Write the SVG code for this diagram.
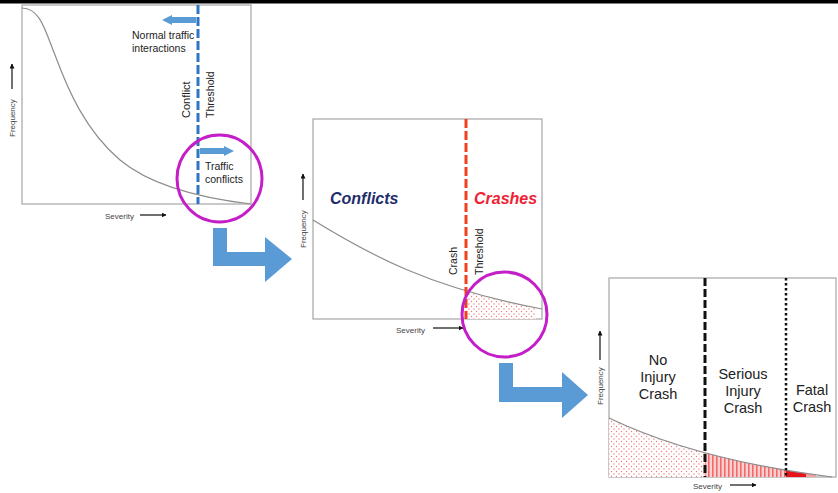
<svg xmlns="http://www.w3.org/2000/svg" width="838" height="493" viewBox="0 0 838 493">
<style>
.box{fill:#fff;stroke:#a6a6a6;stroke-width:1.2}
.curve{fill:none;stroke:#8c8c8c;stroke-width:1.2}
.t{font-family:"Liberation Sans",Arial,sans-serif;fill:#222}
.ax{font-family:"Liberation Sans",Arial,sans-serif;font-size:8px;fill:#444}
.axl{stroke:#111;stroke-width:1.2;fill:none;marker-end:url(#ah)}
.ring{fill:none;stroke:#c41ec8;stroke-width:3}
.big{fill:#5b9bd5}
.lab{font-family:"Liberation Sans",Arial,sans-serif;font-size:14.5px;fill:#222;text-anchor:middle}
</style>
<defs>
<marker id="ah" viewBox="0 0 10 10" refX="9" refY="5" markerWidth="5" markerHeight="5" orient="auto" markerUnits="userSpaceOnUse"><path d="M0,0 L10,5 L0,10 Z" fill="#111"/></marker>
<pattern id="dots" width="5" height="5" patternUnits="userSpaceOnUse"><rect width="5" height="5" fill="#fff"/><circle cx="1.5" cy="1.5" r="0.7" fill="#f07a7a"/><circle cx="4" cy="4" r="0.7" fill="#f07a7a"/></pattern>
<pattern id="vlines" width="4" height="4" patternUnits="userSpaceOnUse"><rect width="4" height="4" fill="#fbd0d0"/><rect x="0" y="0" width="1.6" height="4" fill="#f26a6a"/></pattern>
<clipPath id="c2"><path d="M313,220 C370,255 430,288 542,309 L542,319 L313,319 Z"/></clipPath>
<clipPath id="c3"><path d="M609,418 C680,452 760,468 832,477 L609,477 Z"/></clipPath>
</defs>
<rect x="0" y="0" width="838" height="493" fill="#fff"/>
<rect x="0" y="0" width="838" height="3.5" fill="#000"/>

<g id="panel-conflict">
<rect class="box" x="22" y="5" width="229" height="199"/>
<path class="curve" d="M22,8 C40,8 45,30 55,55 C68,90 85,130 120,160 C150,185 200,198 251,204"/>
<line x1="198" y1="5" x2="198" y2="204" stroke="#2e75c6" stroke-width="3" stroke-dasharray="9,3"/>
<path class="big" d="M196,17 L172,17 L172,15 L162,20 L172,25 L172,23 L196,23 Z"/>
<path class="big" d="M200,148 L224,148 L224,146 L234,151 L224,156 L224,154 L200,154 Z"/>
<text class="t" font-size="10.5" x="132" y="39">Normal traffic</text>
<text class="t" font-size="10.5" x="132" y="52">interactions</text>
<text class="t" font-size="11" transform="translate(190,118) rotate(-90)">Conflict</text>
<text class="t" font-size="10.5" transform="translate(214,118) rotate(-90)">Threshold</text>
<text class="t" font-size="10.5" x="205" y="170">Traffic</text>
<text class="t" font-size="10.5" x="205" y="183">conflicts</text>
<text class="ax" x="105" y="219">Severity</text>
<line class="axl" x1="140" y1="215" x2="166" y2="215"/>
<text class="ax" transform="translate(15,137) rotate(-90)">Frequency</text>
<line class="axl" x1="12" y1="89" x2="12" y2="64"/>
<ellipse class="ring" cx="219.5" cy="178.5" rx="42.5" ry="43.5"/>
</g>

<g id="panel-crash">
<rect class="box" x="313" y="119" width="229" height="200"/>
<rect x="466" y="280" width="70" height="40" fill="url(#dots)" clip-path="url(#c2)"/>
<path class="curve" d="M313,220 C370,255 430,288 542,309"/>
<line x1="466" y1="119" x2="466" y2="319" stroke="#f0401c" stroke-width="3" stroke-dasharray="9,3"/>
<text class="t" font-size="16" font-weight="bold" font-style="italic" fill="#1f2d6b" x="330" y="204" style="fill:#1f2d6b">Conflicts</text>
<text class="t" font-size="16" font-weight="bold" font-style="italic" x="474" y="204" style="fill:#ee2233">Crashes</text>
<text class="t" font-size="10.5" transform="translate(457,275) rotate(-90)">Crash</text>
<text class="t" font-size="10.5" transform="translate(483,275) rotate(-90)">Threshold</text>
<text class="ax" x="396" y="333">Severity</text>
<line class="axl" x1="433" y1="328" x2="463" y2="328"/>
<text class="ax" transform="translate(306,248) rotate(-90)">Frequency</text>
<line class="axl" x1="303" y1="200" x2="303" y2="174"/>
<circle class="ring" cx="504.5" cy="314.5" r="42.5"/>
</g>

<g id="panel-severity">
<rect class="box" x="609" y="278" width="227" height="199"/>
<g clip-path="url(#c3)">
<rect x="609" y="410" width="96" height="68" fill="url(#dots)"/>
<rect x="705" y="410" width="81" height="68" fill="url(#vlines)"/>
<rect x="786" y="410" width="20" height="68" fill="#e8141c"/>
<rect x="806" y="410" width="10" height="68" fill="#f4a0a0"/>
</g>
<path class="curve" d="M609,418 C680,452 760,468 832,477"/>
<line x1="705" y1="278" x2="705" y2="477" stroke="#111" stroke-width="3" stroke-dasharray="8,3"/>
<line x1="786" y1="278" x2="786" y2="477" stroke="#111" stroke-width="2.5" stroke-dasharray="2.5,2.5"/>
<text class="lab" x="658" y="365">No</text>
<text class="lab" x="658" y="382">Injury</text>
<text class="lab" x="658" y="399">Crash</text>
<text class="lab" x="743" y="379">Serious</text>
<text class="lab" x="743" y="396">Injury</text>
<text class="lab" x="743" y="413">Crash</text>
<text class="lab" x="812" y="395">Fatal</text>
<text class="lab" x="812" y="412">Crash</text>
<text class="ax" x="693" y="489">Severity</text>
<line class="axl" x1="730" y1="485" x2="756" y2="485"/>
<text class="ax" transform="translate(603,405) rotate(-90)">Frequency</text>
<line class="axl" x1="600" y1="360" x2="600" y2="331"/>
</g>

<g id="connectors">
<path class="big" d="M213,228 L227,228 L227,252 L265,252 L265,237 L292,259 L265,282 L265,266 L213,266 Z"/>
<path class="big" d="M499,363 L513,363 L513,387 L562,387 L562,372 L588,395 L562,418 L562,402 L499,402 Z"/>
</g>
</svg>
